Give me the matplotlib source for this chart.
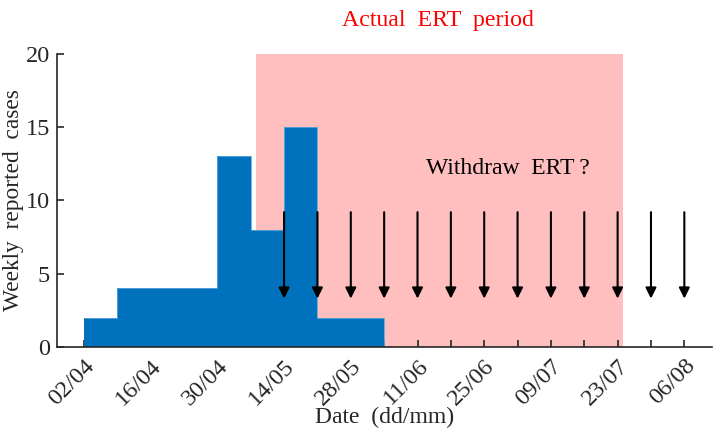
import numpy as np
import matplotlib.pyplot as plt

plt.rcParams['font.family'] = ['Liberation Serif', 'DejaVu Serif']

# weekly case counts, week 0 starts 02/04
week_edges = np.arange(11)
cases = [2, 4, 4, 4, 13, 8, 15, 2, 2, 0]
tick_dates = ['02/04', '09/04', '16/04', '23/04', '30/04', '07/05', '14/05', '21/05',
              '28/05', '04/06', '11/06', '18/06', '25/06', '02/07', '09/07', '16/07',
              '23/07', '30/07', '06/08']
ert_start, ert_end = 5.15, 16.15
withdraw_weeks = np.arange(6, 19)
arrow_top, arrow_tip = 9.2, 3.3

fs = 17.2
ink = '#262626'

fig = plt.figure(figsize=(7.21, 4.42), dpi=100)
ax = fig.add_axes([0.079, 0.215, 0.909, 0.663])

ax.axvspan(ert_start, ert_end, ymin=0, ymax=1, color='#ffbfbf', lw=0, zorder=1)
ax.stairs(cases, week_edges, fill=True, color='#0072bd', zorder=2)
ax.stairs(cases, week_edges, color='#5fa6dc', lw=0.6, baseline=None, zorder=2)

for w in withdraw_weeks:
    ax.annotate('', xy=(w, arrow_tip), xytext=(w, arrow_top),
                arrowprops=dict(arrowstyle='-|>', color='black', lw=1.5,
                                mutation_scale=16, shrinkA=0, shrinkB=0),
                zorder=4)

ax.text(12.7, 12.2, 'Withdraw  ERT\u2009?', fontsize=17, ha='center', va='center', zorder=5)
ax.text(10.6, 22.3, 'Actual  ERT  period', fontsize=fs, color='red',
        ha='center', va='center', clip_on=False)

ax.set_xlim(-0.81, 18.84)
ax.set_ylim(0, 20)
ax.set_xticks(np.arange(len(tick_dates)))
ax.set_xticklabels([d if i % 2 == 0 else '' for i, d in enumerate(tick_dates)],
                   rotation=45, ha='right', rotation_mode='anchor')
ax.set_yticks([0, 5, 10, 15, 20])
ax.tick_params(direction='in', length=5, width=1.2, labelsize=17.5, color=ink,
               labelcolor=ink)
ax.tick_params(axis='x', pad=6)
ax.tick_params(axis='y', pad=5)
for s in ['top', 'right']:
    ax.spines[s].set_visible(False)
for s in ['left', 'bottom']:
    ax.spines[s].set_linewidth(1.2)
    ax.spines[s].set_color(ink)
    ax.spines[s].set_zorder(6)

ax.set_xlabel('Date  (dd/mm)', fontsize=17, color=ink)
ax.xaxis.set_label_coords(0.5, -0.239)
ax.xaxis.label.set_va('center')
ax.set_ylabel('Weekly  reported  cases', fontsize=16.8, color=ink)
ax.yaxis.set_label_coords(-0.067, 0.5)
ax.yaxis.label.set_va('center')

fig.savefig('out.png', dpi=100)
